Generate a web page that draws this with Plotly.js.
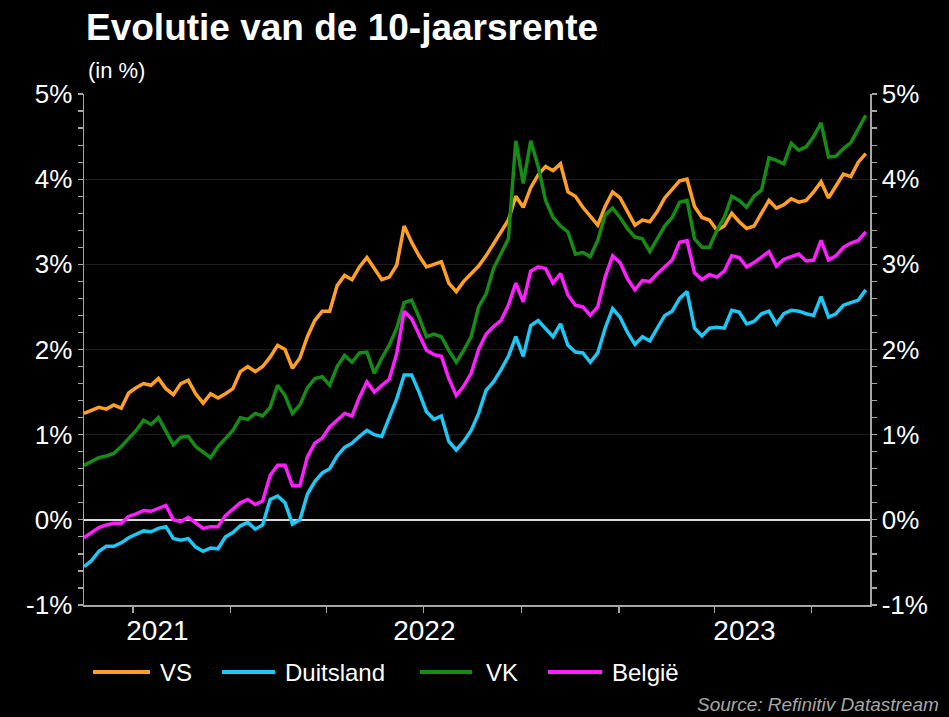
<!DOCTYPE html>
<html><head><meta charset="utf-8">
<script src="https://cdn.plot.ly/plotly-3.0.1.min.js"></script>
<style>html,body{margin:0;padding:0;background:#000;}#chart{width:949px;height:717px;}</style>
</head><body><div id="chart"></div>
<script>
const dates = [
'2021-08-16','2021-08-23','2021-08-30','2021-09-06','2021-09-13','2021-09-20','2021-09-27','2021-10-04','2021-10-11','2021-10-18',
'2021-10-25','2021-11-01','2021-11-08','2021-11-15','2021-11-22','2021-11-29','2021-12-06','2021-12-13','2021-12-20','2021-12-27',
'2022-01-03','2022-01-10','2022-01-17','2022-01-24','2022-01-31','2022-02-07','2022-02-14','2022-02-21','2022-02-28','2022-03-07',
'2022-03-14','2022-03-21','2022-03-28','2022-04-04','2022-04-11','2022-04-18','2022-04-25','2022-05-02','2022-05-09','2022-05-16',
'2022-05-23','2022-05-30','2022-06-06','2022-06-13','2022-06-20','2022-06-27','2022-07-04','2022-07-11','2022-07-18','2022-07-25',
'2022-08-01','2022-08-08','2022-08-15','2022-08-22','2022-08-29','2022-09-05','2022-09-12','2022-09-19','2022-09-26','2022-10-03',
'2022-10-10','2022-10-17','2022-10-24','2022-10-31','2022-11-07','2022-11-14','2022-11-21','2022-11-28','2022-12-05','2022-12-12',
'2022-12-19','2022-12-26','2023-01-02','2023-01-09','2023-01-16','2023-01-23','2023-01-30','2023-02-06','2023-02-13','2023-02-20',
'2023-02-27','2023-03-06','2023-03-13','2023-03-20','2023-03-27','2023-04-03','2023-04-10','2023-04-17','2023-04-24','2023-05-01',
'2023-05-08','2023-05-15','2023-05-22','2023-05-29','2023-06-05','2023-06-12','2023-06-19','2023-06-26','2023-07-03','2023-07-10',
'2023-07-17','2023-07-24','2023-07-31','2023-08-07','2023-08-14','2023-08-21'];

const vs = [
1.25,1.29,1.32,1.30,1.35,1.31,1.49,1.55,1.60,1.58,
1.66,1.54,1.47,1.60,1.64,1.48,1.37,1.48,1.43,1.48,
1.54,1.74,1.80,1.74,1.80,1.91,2.05,2.00,1.78,1.90,
2.15,2.34,2.45,2.45,2.75,2.87,2.82,2.97,3.08,2.95,
2.82,2.85,2.99,3.45,3.26,3.10,2.97,3.00,3.03,2.78,
2.68,2.80,2.89,2.98,3.10,3.25,3.38,3.52,3.80,3.67,
3.90,4.05,4.15,4.10,4.18,3.85,3.80,3.67,3.56,3.46,
3.68,3.85,3.78,3.62,3.46,3.52,3.50,3.62,3.78,3.88,
3.98,4.00,3.68,3.55,3.52,3.40,3.45,3.60,3.50,3.42,
3.45,3.60,3.75,3.66,3.70,3.77,3.73,3.75,3.85,3.97,
3.78,3.92,4.06,4.03,4.20,4.30];

const duitsland = [
-0.55,-0.48,-0.37,-0.31,-0.31,-0.27,-0.21,-0.17,-0.13,-0.14,
-0.10,-0.08,-0.22,-0.24,-0.22,-0.32,-0.37,-0.33,-0.34,-0.20,
-0.15,-0.07,-0.03,-0.11,-0.06,0.24,0.28,0.20,-0.05,0.00,
0.30,0.45,0.55,0.60,0.75,0.85,0.90,0.98,1.05,1.00,
0.98,1.20,1.42,1.70,1.70,1.50,1.27,1.18,1.22,0.92,
0.82,0.92,1.05,1.25,1.52,1.62,1.76,1.92,2.15,1.92,
2.28,2.34,2.25,2.15,2.30,2.05,1.97,1.96,1.85,1.96,
2.25,2.48,2.38,2.20,2.06,2.15,2.10,2.26,2.40,2.45,
2.60,2.68,2.25,2.16,2.25,2.26,2.25,2.46,2.44,2.30,
2.33,2.42,2.45,2.30,2.42,2.46,2.45,2.42,2.40,2.62,
2.38,2.42,2.52,2.55,2.58,2.70];

const vk = [
0.64,0.68,0.73,0.75,0.78,0.86,0.95,1.05,1.17,1.12,
1.20,1.03,0.88,0.97,0.98,0.86,0.79,0.73,0.86,0.96,
1.05,1.20,1.18,1.25,1.22,1.32,1.58,1.46,1.25,1.35,
1.55,1.66,1.68,1.58,1.80,1.93,1.85,1.96,1.97,1.72,
1.90,2.05,2.25,2.55,2.58,2.38,2.15,2.18,2.15,1.99,
1.85,1.99,2.15,2.50,2.65,2.95,3.12,3.30,4.45,3.95,
4.45,4.15,3.75,3.55,3.45,3.38,3.12,3.14,3.09,3.28,
3.58,3.66,3.55,3.42,3.32,3.30,3.15,3.30,3.45,3.55,
3.73,3.75,3.30,3.20,3.20,3.40,3.55,3.80,3.75,3.67,
3.80,3.87,4.25,4.22,4.18,4.42,4.34,4.38,4.50,4.66,
4.26,4.27,4.36,4.43,4.60,4.75];

const belgie = [
-0.21,-0.15,-0.09,-0.06,-0.04,-0.04,0.04,0.07,0.11,0.10,
0.13,0.17,0.00,-0.02,0.03,-0.04,-0.10,-0.08,-0.08,0.05,
0.13,0.20,0.24,0.18,0.22,0.52,0.64,0.64,0.40,0.40,
0.74,0.90,0.96,1.09,1.17,1.25,1.22,1.44,1.62,1.50,
1.58,1.65,1.95,2.45,2.36,2.18,1.99,1.94,1.92,1.66,
1.46,1.57,1.72,2.00,2.18,2.27,2.34,2.52,2.78,2.56,
2.92,2.97,2.95,2.78,2.89,2.64,2.52,2.50,2.40,2.50,
2.85,3.10,3.02,2.83,2.70,2.81,2.80,2.89,2.97,3.05,
3.26,3.28,2.90,2.82,2.88,2.85,2.92,3.10,3.08,2.97,
3.02,3.09,3.15,2.98,3.06,3.09,3.12,3.04,3.05,3.28,
3.05,3.10,3.20,3.25,3.28,3.38];

const seriesNames = ['VS','Duitsland','VK','België'];
const seriesValues = [vs, duitsland, vk, belgie];
const seriesColors = ['#FFA024','#1DC8F5','#168C16','#FF1EFF'];

const yearLabels = ['2021','2022','2023'];
const yearLabelDates = ['2021-10-24','2022-07-02','2023-04-29'];
const quarterTicks = ['2021-10-01','2022-01-01','2022-04-01','2022-07-01','2022-10-01','2023-01-01','2023-04-01','2023-07-01'];
const yTicks = [-1,0,1,2,3,4,5];
const yTickText = ['-1%','0%','1%','2%','3%','4%','5%'];

const W = 949, H = 717;
const M = {l:84, r:79, t:94, b:112};
const PW = W - M.l - M.r, PH = H - M.t - M.b;
const px = x => (x - M.l) / PW;
const py = y => (H - M.b - y) / PH;

const SANS = "'Liberation Sans', Arial, Helvetica, sans-serif";
const AXC = '#a6a6a6';

const traces = seriesNames.map((n, i) => ({
  type: 'scatter', mode: 'lines', name: n, x: dates, y: seriesValues[i],
  line: {color: seriesColors[i], width: 3.5}, hoverinfo: 'skip', showlegend: false
}));
traces.push({type:'scatter', mode:'lines', x: [], y: [], yaxis: 'y2', showlegend:false, hoverinfo:'skip'});

const yBase = {
  range: [-1, 5], tickmode: 'array', tickvals: yTicks, ticktext: yTickText,
  ticks: 'outside', ticklen: 5, tickwidth: 1.2, tickcolor: AXC,
  showline: true, linecolor: AXC, linewidth: 1.5,
  tickfont: {family: SANS, size: 26, color: '#ffffff'},
  minor: {tickmode: 'linear', tick0: 0, dtick: 0.2, ticks: 'outside', ticklen: 5, tickwidth: 1.2, tickcolor: AXC, showgrid: false},
  fixedrange: true
};

const legendX = [[93,150,158],[222,275,283],[420,472,484],[548,602,610]];
const legendY = 672;
const shapes = seriesNames.map((n, i) => ({
  type: 'line', xref: 'paper', yref: 'paper',
  x0: px(legendX[i][0]), x1: px(legendX[i][1]), y0: py(legendY), y1: py(legendY),
  line: {color: seriesColors[i], width: 4}
}));
const annotations = seriesNames.map((n, i) => ({
  xref: 'paper', yref: 'paper', x: px(legendX[i][2]), y: py(legendY),
  xanchor: 'left', yanchor: 'middle', showarrow: false, text: n,
  font: {family: SANS, size: 24, color: '#ffffff'}
}));
annotations.push({
  xref: 'paper', yref: 'paper', x: px(86), y: py(70), xanchor: 'left', yanchor: 'middle',
  showarrow: false, text: '(in %)', font: {family: SANS, size: 22, color: '#ffffff'}
});
annotations.push({
  xref: 'paper', yref: 'paper', x: px(941), y: py(704), xanchor: 'right', yanchor: 'middle',
  showarrow: false, text: '<i>Source: Refinitiv Datastream</i>', font: {family: SANS, size: 19, color: '#a6a6a6'}
});

const layout = {
  width: W, height: H, margin: M,
  paper_bgcolor: '#000000', plot_bgcolor: '#000000',
  title: {text: '<b>Evolutie van de 10-jaarsrente</b>', x: 86 / W, xref: 'container', xanchor: 'left',
          y: 1 - 27 / H, yref: 'container', yanchor: 'middle',
          font: {family: SANS, size: 37, color: '#ffffff'}},
  xaxis: {
    type: 'date', range: ['2021-08-16', '2023-08-25'],
    tickmode: 'array', tickvals: yearLabelDates, ticktext: yearLabels, ticks: '',
    showline: true, linecolor: AXC, linewidth: 1.5, showgrid: false, zeroline: false,
    tickfont: {family: SANS, size: 28, color: '#ffffff'},
    minor: {tickmode: 'array', tickvals: quarterTicks, ticks: 'outside', ticklen: 6, tickwidth: 1.2, tickcolor: AXC, showgrid: false},
    fixedrange: true
  },
  yaxis: Object.assign({}, yBase, {
    side: 'left', showgrid: true, gridcolor: '#1e1e1e', gridwidth: 1,
    zeroline: true, zerolinecolor: '#d9d9d9', zerolinewidth: 1.5
  }),
  yaxis2: Object.assign({}, yBase, {
    side: 'right', overlaying: 'y', showgrid: false, zeroline: false
  }),
  shapes: shapes, annotations: annotations, showlegend: false
};

Plotly.newPlot('chart', traces, layout, {displayModeBar: false, staticPlot: true});
</script></body></html>
